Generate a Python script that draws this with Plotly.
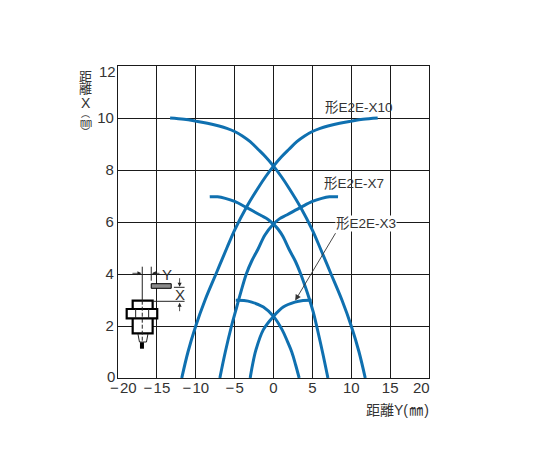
import plotly.graph_objects as go

FONT = "Liberation Sans, Noto Sans CJK JP, sans-serif"
TEXT = "#333333"
BLUE = "#0f70b0"
W, H = 545, 472
BODY = 8  # default page margin around the figure
L, R, T, B = 118, 429.5, 66, 378

x_ticks = [-20, -15, -10, -5, 0, 5, 10, 15, 20]
x_tick_labels = ["", "−\u200a15", "−\u200a10", "−\u200a5", "0", "5", "10", "15", ""]
y_ticks = [0, 2, 4, 6, 8, 10, 12]
y_tick_labels = ["", "2", "4", "6", "8", "10", ""]

x10_fall_y = [-13.3, -11.5, -10, -8.5, -7, -6, -5, -4, -3, -2, -1, 0, 1, 2, 3.5, 5, 6, 7.4, 8.8, 10, 11, 11.8]
x10_fall_x = [10, 9.95, 9.88, 9.8, 9.69, 9.6, 9.48, 9.31, 9.09, 8.8, 8.5, 8.15, 7.75, 7.3, 6.56, 5.69, 5.0, 4, 3, 2, 1, 0]
x10_rise_y = [-11.8, -11, -10, -8.8, -7.4, -6, -5, -3.5, -2, -1, 0, 1, 2, 3, 4, 5, 6, 7, 8.5, 10, 11.5, 13.4]
x10_rise_x = [0, 1, 2, 3, 4, 5.0, 5.69, 6.56, 7.3, 7.75, 8.15, 8.5, 8.8, 9.09, 9.31, 9.48, 9.6, 9.69, 9.8, 9.88, 9.95, 10]

x7_fall_y = [-8.2, -7.2, -6.2, -5, -3.5, -1.6, -0.7, 0, 0.6, 1.2, 2, 2.8, 3.5, 4.1, 4.6, 5.1, 5.55, 6.3, 7]
x7_fall_x = [6.97, 6.97, 6.91, 6.79, 6.56, 6.25, 6.1, 5.92, 5.72, 5.45, 4.95, 4.5, 4, 3.5, 3.05, 2.55, 2, 1, 0]
x7_rise_y = [-6.9, -6.2, -5.4, -4.85, -4.2, -3.5, -2.8, -2, -1.1, 0, 0.8, 1.7, 3.5, 5, 6.2, 7.2, 8.3]
x7_rise_x = [0, 1, 2, 2.6, 3.3, 4, 4.5, 4.95, 5.5, 5.92, 6.13, 6.27, 6.56, 6.79, 6.91, 6.97, 6.97]

x3_fall_y = [-4.85, -3.8, -2.8, -1.3, 0, 1.1, 1.8, 2.35, 2.85, 3.3]
x3_fall_x = [2.99, 2.98, 2.92, 2.73, 2.37, 1.86, 1.4, 1, 0.5, 0]
x3_rise_y = [-3.0, -2.7, -2.26, -1.3, 0, 1.25, 2.75, 3.8, 4.9]
x3_rise_x = [0, 0.5, 1.08, 1.86, 2.37, 2.73, 2.92, 2.98, 2.99]

curves = [
    ("形E2E-X10", x10_fall_y, x10_fall_x), ("形E2E-X10", x10_rise_y, x10_rise_x),
    ("形E2E-X7", x7_fall_y, x7_fall_x), ("形E2E-X7", x7_rise_y, x7_rise_x),
    ("形E2E-X3", x3_fall_y, x3_fall_x), ("形E2E-X3", x3_rise_y, x3_rise_x),
]

fig = go.Figure()
for name, xs, ys in curves:
    fig.add_trace(go.Scatter(x=xs, y=ys, name=name, mode="lines", showlegend=False,
                             line=dict(color=BLUE, width=3, shape="spline", smoothing=1.0)))

shapes = []

def paper_x(v):
    return (v - L) / (R - L)

def paper_y(v):
    return (B - v) / (B - T)

def rect(x0, y0, x1, y1, fill="white", lw=0, color="black", layer="below"):
    shapes.append(dict(type="rect", xref="paper", yref="paper",
                       x0=paper_x(x0), x1=paper_x(x1), y0=paper_y(y0), y1=paper_y(y1),
                       fillcolor=fill, line=dict(width=lw, color=color), layer=layer))

def seg(x0, y0, x1, y1, lw=1, color="#222222", dash="solid"):
    shapes.append(dict(type="line", xref="paper", yref="paper",
                       x0=paper_x(x0), x1=paper_x(x1), y0=paper_y(y0), y1=paper_y(y1),
                       line=dict(width=lw, color=color, dash=dash), layer="above"))

# white mask behind the sketch
rect(120.5, 263, 189, 300)
rect(120.5, 300, 163, 354)

# sensor body
rect(132.7, 300.7, 152.7, 333.3, lw=2.2, layer="above")
rect(126.7, 309, 157.3, 318.3, lw=2.2, layer="above")
seg(135.7, 309, 135.7, 318.3)
seg(148.7, 309, 148.7, 318.3)
seg(138, 334, 139.5, 342, lw=1)
seg(148, 334, 146.5, 342, lw=1)
seg(139.5, 342, 146.5, 342, lw=1)
rect(140, 342.3, 144, 348.7, fill="black", layer="above")
seg(142.3, 266.7, 142.3, 300.7)
seg(142.3, 300.7, 142.3, 342, dash="4px,2px")
seg(151.3, 266.7, 151.3, 280.7)
rect(151.3, 283.7, 171.3, 288.3, fill="#8c8c8c", lw=1, layer="above")
seg(174, 287.3, 184.7, 287.3)
seg(152.7, 301.3, 184.7, 301.3)

annotations = []

def label(text, x, y, size=13, anchor="center", bg=None, color=TEXT):
    annotations.append(dict(text=text, xref="paper", yref="paper", x=paper_x(x), y=paper_y(y),
                            xanchor=anchor, yanchor="middle", showarrow=False,
                            font=dict(family=FONT, size=size, color=color),
                            bgcolor=bg, borderpad=0))

def arrow(x0, y0, x1, y1, color="#222222", width=0.8, size=1.0):
    annotations.append(dict(text="", xref="paper", yref="paper", axref="pixel", ayref="pixel",
                            x=paper_x(x1), y=paper_y(y1), ax=x0 - x1, ay=y0 - y1,
                            showarrow=True, arrowhead=2, arrowsize=size, arrowwidth=width,
                            arrowcolor=color, standoff=0, startstandoff=0))

arrow(131, 273.3, 141.5, 273.3)
arrow(161, 273.3, 152, 273.3)
arrow(179.7, 276.7, 179.7, 286.7)
arrow(179.7, 312.7, 179.7, 302.7)
arrow(336.7, 231.7, 295.5, 300.5, color="#333333", width=0.9, size=1.3)

label("Y", 167, 274, 15)
label("X", 179.7, 294.3, 15)

label("形E2E-X10", 359, 107, 13.5)
label("形E2E-X7", 354.5, 183, 13.5)
label("形E2E-X3", 366.5, 223, 13.5, bg="white")

# end tick labels that sit off their grid lines
label("−\u200a20", 123.5, 388, 15)
label("20", 422, 388, 15)
label("12", 107.5, 71.5, 15)
label("0", 111, 376, 15)

# axis titles
label("距", 85.5, 76, 13)
label("離", 85.5, 89, 13)
label("X", 85.5, 103, 14)
label("︵", 85.5, 113.5, 9)
label("㎜", 85.5, 122.5, 12)
label("︶", 85.5, 131.5, 9)
label("距離Y(\u200a㎜\u200a)", 398, 410, 14)

fig.update_layout(
    width=W - BODY, height=H - BODY,
    margin=dict(l=L - BODY, r=W - R, t=T - BODY, b=H - B, pad=0),
    paper_bgcolor="white", plot_bgcolor="white", showlegend=False,
    shapes=shapes, annotations=annotations,
    font=dict(family=FONT, size=15, color=TEXT),
    xaxis=dict(range=[-20, 20], tickmode="array", tickvals=x_ticks, ticktext=x_tick_labels,
               showgrid=True, gridcolor="#1a1a1a", gridwidth=1.1, zeroline=False,
               showline=True, linecolor="#1a1a1a", linewidth=1.2, mirror=True, ticks="",
               ticklabelstandoff=-4, layer="below traces"),
    yaxis=dict(range=[0, 12], tickmode="array", tickvals=y_ticks, ticktext=y_tick_labels,
               showgrid=True, gridcolor="#1a1a1a", gridwidth=1.1, zeroline=False,
               showline=True, linecolor="#1a1a1a", linewidth=1.2, mirror=True, ticks="",
               layer="below traces"),
)
fig.write_html("out.html", config={"displayModeBar": False})
